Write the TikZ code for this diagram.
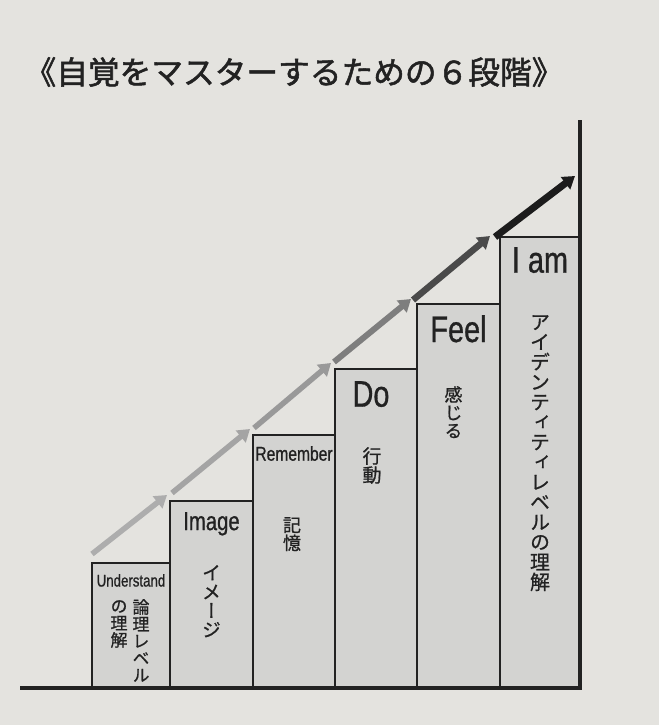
\documentclass[tikz,border=0pt]{standalone}
\usepackage{fontspec}
\setmainfont{Liberation Sans}
\newfontfamily\jp[FakeBold=1.6]{Noto Sans CJK JP}
\newfontfamily\tatefont[RawFeature=+vert, FakeBold=0.8]{Noto Sans CJK JP}
\newfontfamily\schmal[FakeStretch=0.78, FakeBold=0.8]{Liberation Sans}
\usetikzlibrary{positioning,arrows.meta}

\definecolor{papier}{HTML}{E4E3DF}
\definecolor{stufengrau}{HTML}{D3D3D1}
\definecolor{tinte}{HTML}{222222}
\definecolor{pfeilA}{HTML}{ADADAD}
\definecolor{pfeilB}{HTML}{A4A4A4}
\definecolor{pfeilC}{HTML}{999999}
\definecolor{pfeilD}{HTML}{7E7E7E}
\definecolor{pfeilE}{HTML}{4A4A4A}
\definecolor{pfeilF}{HTML}{1C1C1C}

\begin{document}
\begin{tikzpicture}[x=1pt, y=-1pt, >={Triangle[length=12pt,width=15pt]},
  stufe/.style 2 args={draw=tinte, line width=1.6pt, fill=stufengrau, inner sep=0pt,
    outer sep=0pt, anchor=south west, minimum width=#1, minimum height=#2},
  wort/.style={font=\schmal\fontsize{#1}{#1}\selectfont, text=tinte, inner sep=0pt},
  tate/.style={font=\tatefont\fontsize{#1}{#1}\selectfont,
    text=tinte, inner sep=0pt, align=center, anchor=north},
  pfeil/.style={->, line width=#1}]

  \fill[papier] (0,0) rectangle (659,725);

  % Titel
  \node[font=\jp\fontsize{31.7}{31.7}\selectfont, text=tinte] (titel) at (294,72)
    {《自覚をマスターするための６段階》};

  % Stufen
  \node[stufe={78pt}{125pt}] (understand) at (92,688) {};
  \node[stufe={83pt}{187pt}] (image) at (170,688) {};
  \node[stufe={82pt}{253pt}] (remember) at (253,688) {};
  \node[stufe={82pt}{319pt}] (do) at (335,688) {};
  \node[stufe={83pt}{384pt}] (feel) at (417,688) {};
  \node[stufe={80pt}{451pt}] (iam) at (500,688) {};

  \coordinate (links) at (20,688);
  \coordinate (oben) at (580,120);
  \draw[line width=3.5pt, draw=tinte] (links) -- (iam.south east) -- (oben);

  % Pfeile
  \coordinate (ende) at (575,176);
  \draw[pfeil=5.5pt, draw=pfeilA] ([yshift=9pt]understand.north west) -- ([shift={(-3pt,6pt)}]image.north west);
  \draw[pfeil=5.5pt, draw=pfeilB] ([shift={(2pt,8pt)}]image.north west) -- ([shift={(-3pt,6pt)}]remember.north west);
  \draw[pfeil=5.5pt, draw=pfeilC] ([shift={(1pt,7pt)}]remember.north west) -- ([shift={(-4pt,6pt)}]do.north west);
  \draw[pfeil=6pt, draw=pfeilD] ([shift={(-1pt,7pt)}]do.north west) -- ([shift={(-6pt,5pt)}]feel.north west);
  \draw[pfeil=6.5pt, draw=pfeilE] ([shift={(-4pt,4pt)}]feel.north west) -- ([shift={(-10pt,1pt)}]iam.north west);
  \draw[pfeil=7pt, draw=pfeilF] ([shift={(-5pt,0pt)}]iam.north west) -- (ende);

  % Beschriftung
  \node[wort=17, below=11pt of understand.north] (tu) {Understand};
  \node[wort=26, below=11pt of image.north] (ti) {Image};
  \node[wort=20, below=11pt of remember.north] (tr) {Remember};
  \node[wort=37, below=12pt of do.north, xshift=-5pt] (td) {Do};
  \node[wort=37, below=11pt of feel.north] (tf) {Feel};
  \node[wort=37, below=10pt of iam.north] (ta) {I am};

  \node[tate=17, below=36pt of understand.north, xshift=10pt] (ju) {論\\理\\レ\\ベ\\ル};
  \node[tate=17, below=37pt of understand.north, xshift=-12pt] (jv) {の\\理\\解};
  \node[tate=19, below=64pt of image.north] (ji) {イ\\メ\\ー\\ジ};
  \node[tate=18, below=82pt of remember.north, xshift=-2pt] (jr) {記\\憶};
  \node[tate=19, below=78pt of do.north, xshift=-4pt] (jd) {行\\動};
  \node[tate=18, below=82pt of feel.north, xshift=-5pt] (jf) {感\\じ\\る};
  \node[tate=20, below=78pt of iam.north] (ja) {ア\\イ\\デ\\ン\\テ\\ィ\\テ\\ィ\\レ\\ベ\\ル\\の\\理\\解};
\end{tikzpicture}
\end{document}
